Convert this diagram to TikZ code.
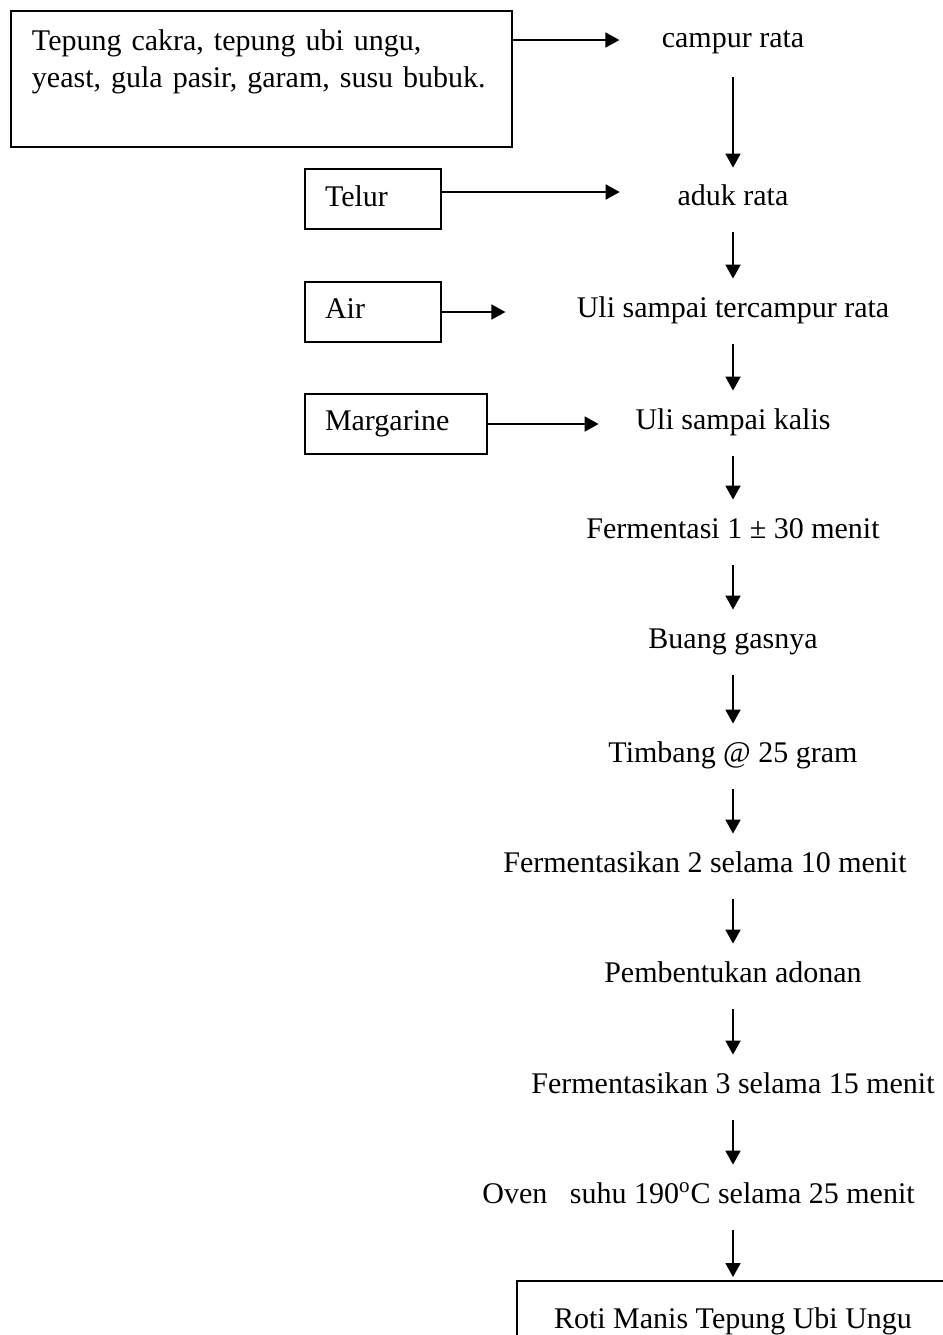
\documentclass[tikz,border=0pt]{standalone}
\usepackage{fontspec}
\setmainfont{Liberation Serif}
\usetikzlibrary{arrows.meta}
\begin{document}
\begin{tikzpicture}[x=0.5pt,y=-0.5pt,
  every node/.style={font=\fontsize{15pt}{18.5pt}\selectfont, inner sep=0pt},
  txt/.style={anchor=base, text height=10.5pt, text depth=3.5pt},
  inbox/.style={draw, line width=1pt, anchor=north west, align=left, inner xsep=10pt, inner ysep=0pt},
  arr/.style={line width=0.9pt, -{Triangle[length=7pt,width=7.5pt]}},
  down/.style={arr, shorten <=10pt, shorten >=8.5pt}]
\useasboundingbox (0,0) rectangle (943,1335);

% ingredient boxes
\node[inbox, text width=229.5pt, inner xsep=10.5pt, text height=19.5pt, text depth=48.5pt] (bahan) at (10,10)
  {Tepung cakra, tepung ubi ungu,\\ yeast, gula pasir, garam, susu bubuk.};
\node[inbox, text width=48pt, text height=18.5pt, text depth=11.5pt] (telur) at (304,168) {Telur};
\node[inbox, text width=48pt, text height=18pt, text depth=12pt] (air) at (304,281) {Air};
\node[inbox, text width=71pt, text height=18pt, text depth=12pt] (marg) at (304,393) {Margarine};

% process steps
\node[txt] (campur) at (733,47) {campur rata};
\node[txt] (aduk) at (733,205) {aduk rata};
\node[txt] (uli1) at (733,317) {Uli sampai tercampur rata};
\node[txt] (uli2) at (733,429) {Uli sampai kalis};
\node[txt] (ferm1) at (733,538) {Fermentasi 1 ± 30 menit};
\node[txt] (buang) at (733,648) {Buang gasnya};
\node[txt] (timbang) at (733,762) {Timbang @ 25 gram};
\node[txt] (ferm2) at (705,872) {Fermentasikan 2 selama 10 menit};
\node[txt] (bentuk) at (733,982) {Pembentukan adonan};
\node[txt] (ferm3) at (733,1093) {Fermentasikan 3 selama 15 menit};
\node[txt, anchor=base west] (oven) at (482,1203) {Oven~~~suhu 190\textsuperscript{o}C selama 25 menit};
\node[draw, line width=1pt, anchor=north, minimum width=216pt, text height=23.5pt, text depth=20pt] (roti) at (733,1280)
  {Roti Manis Tepung Ubi Ungu};

% ingredient inputs
\draw[arr, shorten >=21pt] (bahan.east |- campur.center) -- (campur.west);
\draw[arr, shorten >=28.75pt] ([yshift=3.5pt]telur.east) -- ([yshift=3.5pt]telur.east -| aduk.west);
\draw[arr, shorten >=35.5pt] (air.east) -- (air.east -| uli1.west);
\draw[arr, shorten >=18.25pt] (marg.east) -- (marg.east -| uli2.west);

% main flow
\draw[down, shorten <=11.5pt, shorten >=8pt] (campur.south) -- (aduk.north);
\draw[down] (aduk.south) -- (uli1.north);
\draw[down] (uli1.south) -- (uli2.north);
\draw[down] (uli2.south) -- (ferm1.north);
\draw[down] (ferm1.south) -- (buang.north);
\draw[down] (buang.south) -- (timbang.north);
\draw[down] (timbang.south) -- (timbang.south |- ferm2.north);
\draw[down] (bentuk.north |- ferm2.south) -- (bentuk.north);
\draw[down] (bentuk.south) -- (ferm3.north);
\draw[down] (ferm3.south) -- (ferm3.south |- oven.north);
\draw[down, shorten >=1.5pt] (roti.north |- oven.south) -- (roti.north);
\end{tikzpicture}
\end{document}
